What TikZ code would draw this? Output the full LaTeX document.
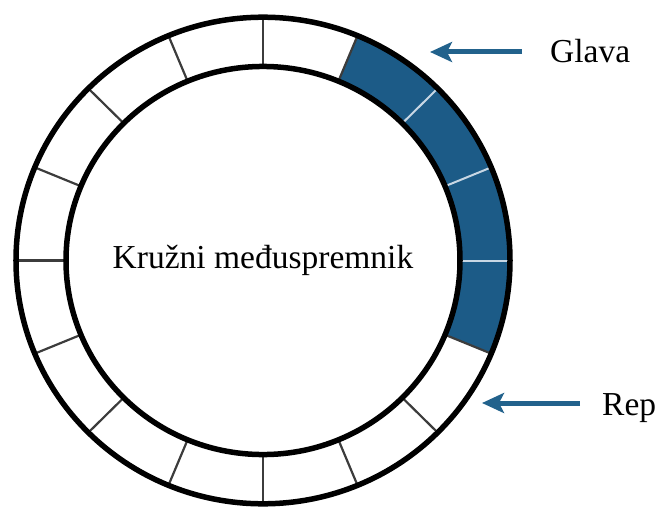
\documentclass[tikz,border=0pt]{standalone}
\usepackage{fontspec}
\setmainfont{Liberation Serif}
\usetikzlibrary{arrows.meta}
\definecolor{slotblue}{RGB}{28,91,135}
\definecolor{arrowblue}{RGB}{34,98,140}
\definecolor{divgray}{RGB}{60,60,60}
\definecolor{divlight}{RGB}{200,215,228}
\tikzset{
  ring/.style={draw=black, line width=5.5pt},
  divider/.style={draw=divgray, line width=2.2pt},
  lightdivider/.style={draw=divlight, line width=2pt},
  label/.style={font=\fontsize{33.5}{40}\selectfont, inner sep=0pt},
  pointer/.style={draw=arrowblue, line width=5pt, -{Stealth[length=22pt,width=20pt,inset=5pt]}}
}
\begin{document}
\begin{tikzpicture}[x=1pt,y=1pt]
\useasboundingbox (-263,-248.5) rectangle (395,260.5);
\begin{scope}[yscale=0.985]
  % filled segments
  \fill[slotblue] (-22.5:197) -- (-22.5:247) arc[start angle=-22.5, end angle=67.5, radius=247]
     -- (67.5:197) arc[start angle=67.5, end angle=-22.5, radius=197] -- cycle;
  % dividers
  \foreach \a in {67.5,90,...,337.5}
    \draw[divider] (\a:197) -- (\a:247);
  \foreach \a in {0,22.5,45}
    \draw[lightdivider] (\a:199) -- (\a:245);
  % rings
  \draw[ring] (0,0) circle[radius=247];
  \draw[ring] (0,0) circle[radius=197];
\end{scope}
\node[label, anchor=base] (title) at (0,-7.5) {Kružni međuspremnik};
\node[label, anchor=base west] (glava) at (287,197.5) {Glava};
\node[label, anchor=base west] (rep) at (339,-154.5) {Rep};
\coordinate (glavatail) at (259,208.5);
\coordinate (glavatip) at (167,208.5);
\coordinate (reptail) at (317,-142.5);
\coordinate (reptip) at (219,-142.5);
\draw[pointer] (glavatail) -- (glavatip);
\draw[pointer] (reptail) -- (reptip);
\end{tikzpicture}
\end{document}
